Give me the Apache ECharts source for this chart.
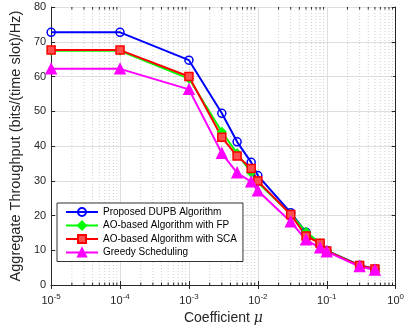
<!DOCTYPE html>
<html>
<head>
<meta charset="utf-8">
<script src="https://cdn.jsdelivr.net/npm/echarts@6/dist/echarts.min.js"></script>
<style>
  html, body { margin: 0; padding: 0; background: #fff; }
  #chart { width: 407px; height: 331px; }
</style>
</head>
<body>
<div id="chart"></div>
<script>
const mu = [1e-5, 1e-4, 1e-3, 3e-3, 5e-3, 8e-3, 1e-2, 3e-2, 5e-2, 8e-2, 1e-1, 3e-1, 5e-1];
const dupb = [72.7, 72.7, 64.7, 49.4, 41.2, 35.3, 31.5, 20.8, 15.2, 11.9, 9.9, 5.7, 4.6];
const aoFp = [67.4, 67.4, 59.4, 44.1, 37.9, 32.3, 29.5, 20.4, 15.3, 12.0, 9.9, 5.6, 4.5];
const aoSca = [67.6, 67.6, 60.0, 42.5, 37.1, 33.5, 29.9, 20.3, 14.1, 12.0, 9.8, 5.6, 4.6];
const greedy = [62.2, 62.2, 56.3, 37.9, 32.3, 29.7, 27.1, 18.2, 13.0, 10.7, 9.6, 5.3, 4.3];
const yTicks = [0, 10, 20, 30, 40, 50, 60, 70, 80];
const decades = [-5, -4, -3, -2, -1, 0];

// dotted minor grid at 2..9 x each decade
const minorX = [];
decades.slice(0, -1).forEach((d) => {
  for (let k = 2; k <= 9; k++) minorX.push([k * Math.pow(10, d)]);
});

const font = "Liberation Sans, Arial, sans-serif";
const pairs = (ys) => ys.map((y, i) => [mu[i], y]);

function lineSeries(name, ys, color, symbol, fill) {
  return {
    name,
    type: "line",
    data: pairs(ys),
    lineStyle: { color, width: 2 },
    itemStyle: { color: fill, borderColor: color, borderWidth: 1.5 },
    symbol,
    symbolSize: symbol === "triangle" ? 10 : 8,
    showSymbol: true,
    z: 5,
  };
}

const chart = echarts.init(document.getElementById("chart"), null, { renderer: "canvas" });
chart.setOption({
  animation: false,
  textStyle: { fontFamily: font },
  grid: { left: 43, right: 6, top: 7, bottom: 46 },
  legend: {
    orient: "vertical",
    left: 57,
    top: 203,
    padding: [4, 6, 4, 8],
    itemGap: 3.5,
    itemWidth: 32,
    itemHeight: 10,
    backgroundColor: "#fff",
    borderColor: "#333",
    borderWidth: 1,
    textStyle: { fontSize: 10, color: "#000", fontFamily: font },
    data: ["Proposed DUPB Algorithm", "AO-based Algorithm with FP", "AO-based Algorithm with SCA", "Greedy Scheduling"],
  },
  xAxis: [
    {
      type: "log",
      logBase: 10,
      min: 1e-5,
      max: 1,
      name: "{t|Coefficient }{m|\u03bc}",
      nameLocation: "middle",
      nameGap: 26,
      nameTextStyle: {
        rich: {
          t: { fontSize: 14, color: "#262626", fontFamily: font },
          m: { fontSize: 14, color: "#262626", fontStyle: "italic", fontFamily: "DejaVu Serif" },
        },
      },
      axisLine: { lineStyle: { color: "#262626", width: 1 } },
      axisTick: { inside: true, length: 4, lineStyle: { color: "#262626" } },
      axisLabel: {
        margin: 8,
        formatter: (v) => `{b|10}{s|${Math.round(Math.log10(v))}}`,
        rich: {
          b: { fontSize: 11, color: "#262626", fontFamily: font },
          s: { fontSize: 8, color: "#262626", fontFamily: font, verticalAlign: "top", padding: [0, 0, 7, 0] },
        },
      },
      splitLine: { show: true, lineStyle: { color: "#dedede", width: 1 } },
    },
    {
      type: "log",
      logBase: 10,
      min: 1e-5,
      max: 1,
      position: "top",
      axisLine: { lineStyle: { color: "#262626", width: 1 } },
      axisTick: { inside: true, length: 4, lineStyle: { color: "#262626" } },
      axisLabel: { show: false },
      splitLine: { show: false },
    },
  ],
  yAxis: [
    {
      type: "value",
      min: 0,
      max: 80,
      interval: 10,
      name: "Aggregate Throughput (bits/(time slot)/Hz)",
      nameLocation: "middle",
      nameGap: 22,
      nameTextStyle: { fontSize: 14.5, color: "#262626", fontFamily: font },
      axisLine: { show: true, lineStyle: { color: "#262626", width: 1 } },
      axisTick: { show: true, inside: true, length: 4, lineStyle: { color: "#262626" } },
      axisLabel: {
        margin: 5,
        fontSize: 11,
        color: "#262626",
        formatter: (v) => (yTicks.includes(v) ? String(v) : ""),
      },
      splitLine: { lineStyle: { color: "#dedede", width: 1 } },
    },
    {
      type: "value",
      min: 0,
      max: 80,
      interval: 10,
      position: "right",
      axisLine: { show: true, lineStyle: { color: "#262626", width: 1 } },
      axisTick: { show: true, inside: true, length: 4, lineStyle: { color: "#262626" } },
      axisLabel: { show: false },
      splitLine: { show: false },
    },
  ],
  series: [
    {
      name: "minor-grid",
      type: "custom",
      data: minorX,
      silent: true,
      z: 1,
      encode: { x: 0 },
      renderItem: (params, api) => {
        const top = api.coord([api.value(0), 80]);
        const bottom = api.coord([api.value(0), 0]);
        return {
          type: "group",
          children: [
            {
              type: "line",
              shape: { x1: top[0], y1: top[1], x2: bottom[0], y2: bottom[1] },
              style: { stroke: "#cfcfcf", lineWidth: 1, lineDash: [1, 2] },
            },
            {
              type: "line",
              shape: { x1: bottom[0], y1: bottom[1], x2: bottom[0], y2: bottom[1] - 2.5 },
              style: { stroke: "#262626", lineWidth: 1 },
            },
            {
              type: "line",
              shape: { x1: top[0], y1: top[1], x2: top[0], y2: top[1] + 2.5 },
              style: { stroke: "#262626", lineWidth: 1 },
            },
          ],
        };
      },
    },
    lineSeries("Proposed DUPB Algorithm", dupb, "#0000ff", "circle", "rgba(255,255,255,0)"),
    lineSeries("AO-based Algorithm with FP", aoFp, "#00ff00", "diamond", "#00ff00"),
    lineSeries("AO-based Algorithm with SCA", aoSca, "#ff0000", "rect", "#ff5050"),
    lineSeries("Greedy Scheduling", greedy, "#ff00ff", "triangle", "#ff00ff"),
  ],
});
</script>
</body>
</html>
